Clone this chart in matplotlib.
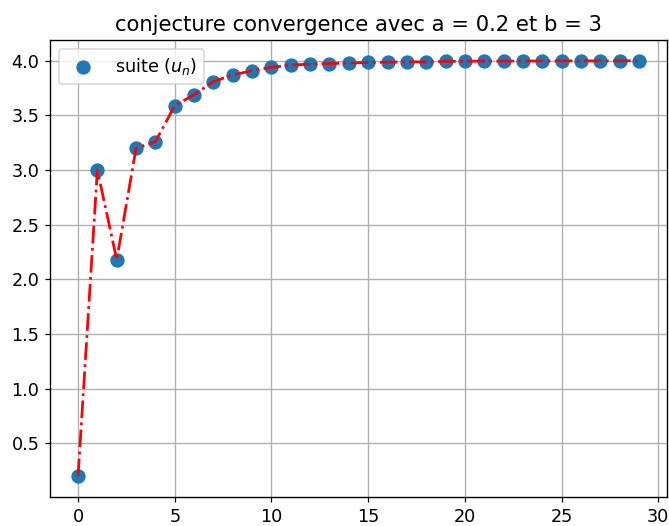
import matplotlib
matplotlib.use("Agg")
import matplotlib.pyplot as plt

n = list(range(30))
u = [0.2, 3.0, 2.18, 3.2, 3.26, 3.59, 3.69, 3.81, 3.87, 3.91, 3.94, 3.96, 3.97, 3.975,
     3.98, 3.985, 3.987, 3.99, 3.99, 3.995, 3.996, 3.997, 3.997, 3.998, 3.998,
     3.999, 3.999, 3.999, 4.0, 4.0]

plt.rcParams["font.size"] = 11.5
plt.rcParams["grid.linewidth"] = 0.9
plt.rcParams["axes.linewidth"] = 0.9

dpi = 110
fig = plt.figure(figsize=(669 / dpi, 526 / dpi), dpi=dpi)
ax = fig.add_axes([50 / 669, 29 / 526, 617 / 669, 457 / 526])
ax.scatter(n, u, s=70, color="#1f77b4", label="suite $(u_n)$", zorder=2)
ax.plot(n, u, "r-.", linewidth=1.8, zorder=3)
ax.grid(True)
ax.set_title("conjecture convergence avec a = 0.2 et b = 3", fontsize=13.8)
ax.legend(loc="upper left")
fig.savefig("out.png", dpi=dpi)
